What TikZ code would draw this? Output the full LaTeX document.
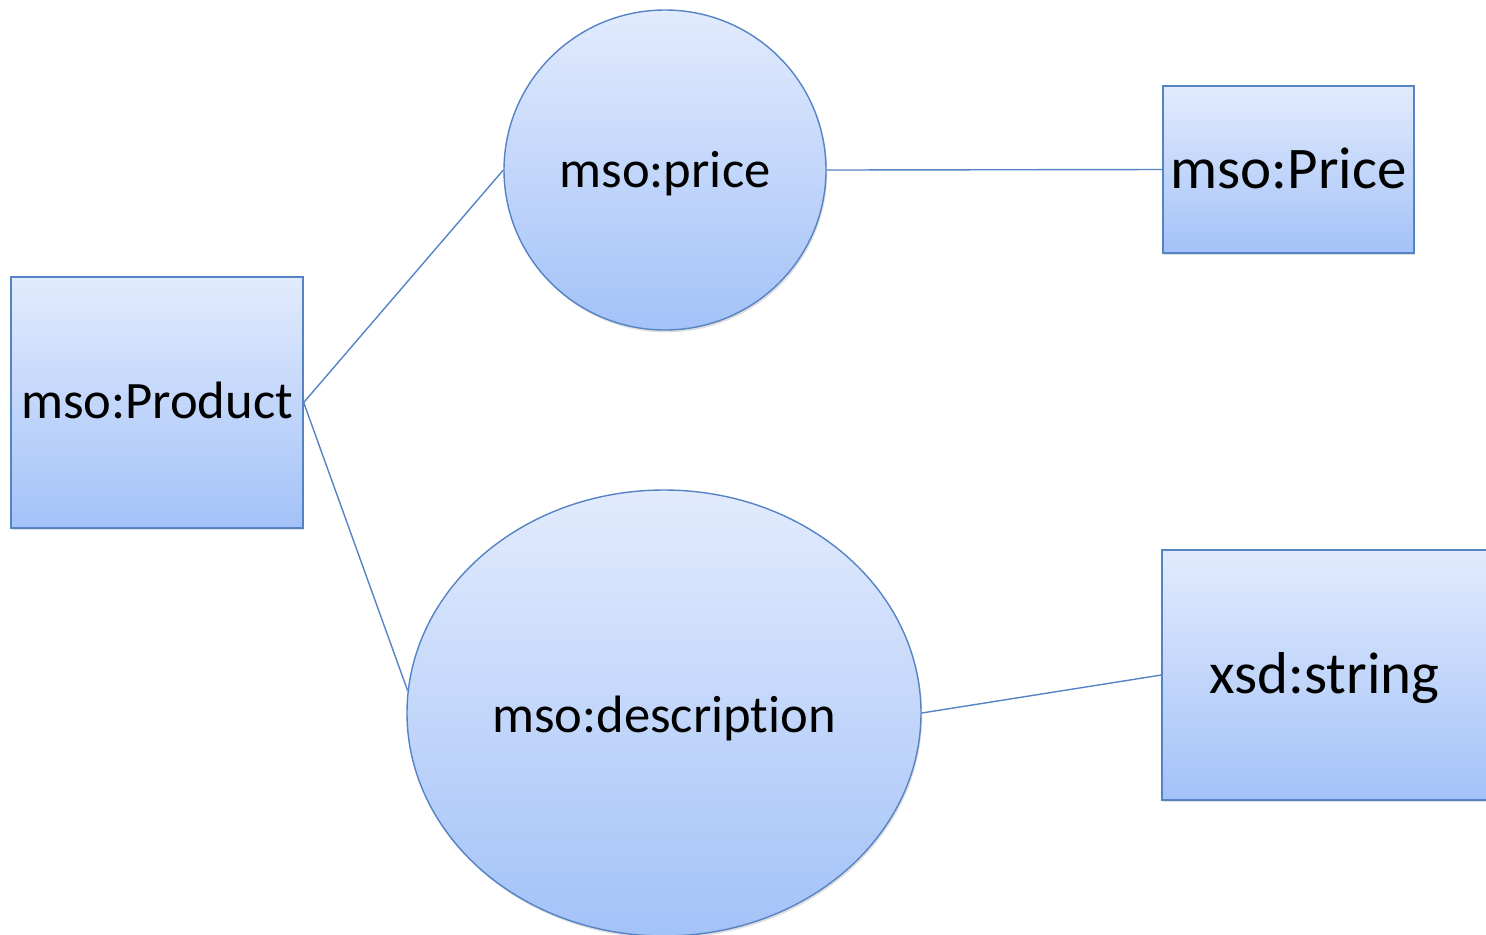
\documentclass[tikz,border=0pt]{standalone}
\usepackage{fontspec}
\setmainfont{Carlito}[Ligatures={NoCommon},RawFeature={-clig;-calt}]
\usetikzlibrary{shapes.geometric,shadows}
\definecolor{edgeblue}{HTML}{5683C4}
\definecolor{topfill}{HTML}{E2EBFD}
\definecolor{botfill}{HTML}{A3C2F8}
\tikzset{
  shapebase/.style={draw=edgeblue, line width=0.7pt, top color=topfill, bottom color=botfill,
    inner sep=0pt, text=black,
    drop shadow={shadow xshift=0.6pt, shadow yshift=-1.2pt, opacity=0.25, fill=black!50}},
  boxnode/.style={shapebase, rectangle},
  ovalnode/.style={shapebase, ellipse},
  smallfont/.style={font=\fontsize{26.3pt}{30pt}\selectfont},
  bigfont/.style={font=\fontsize{29.5pt}{34pt}\selectfont},
  link/.style={draw=edgeblue, line width=0.7pt}
}
\begin{document}
\begin{tikzpicture}[x=0.5pt, y=-0.5pt]
\useasboundingbox (0,0) rectangle (1486,934);
\node[boxnode, smallfont, minimum width=146pt, minimum height=125.5pt, text height=16pt, text depth=0pt]
  (product) at (157,402.5) {mso:Product};
\node[ovalnode, smallfont, minimum width=161pt, minimum height=160pt, text height=17pt, text depth=0pt]
  (price) at (665,170) {mso:price};
\node[boxnode, bigfont, minimum width=125.5pt, minimum height=83.5pt, text height=18.5pt, text depth=0pt]
  (Price) at (1288.5,169.5) {mso:Price};
\node[ovalnode, smallfont, minimum width=257pt, minimum height=223pt, text height=19pt, text depth=0pt]
  (desc) at (664,713) {mso:descript\kern0pt ion};
\node[boxnode, bigfont, minimum width=162.5pt, minimum height=125pt, text height=18pt, text depth=0pt]
  (xsd) at (1324.5,675) {xsd:string};
\draw[link] (product.east) -- (price.west);
\draw[link] (product.east) -- (desc.175.5);
\draw[link] (price.east) -- (Price.west);
\draw[link] (desc.east) -- (xsd.west);
\end{tikzpicture}
\end{document}
